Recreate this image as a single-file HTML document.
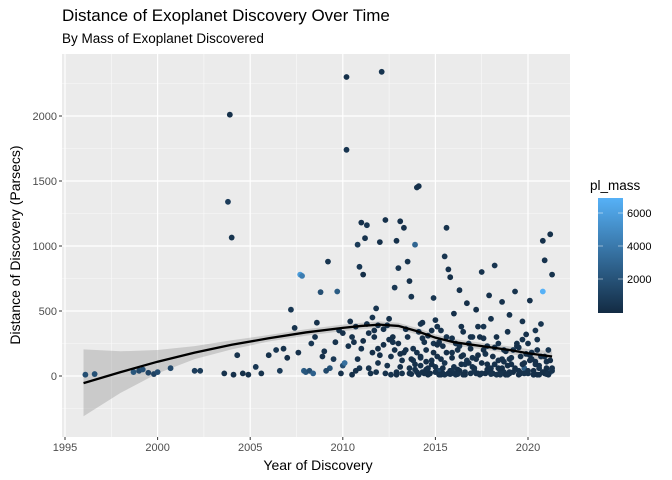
<!DOCTYPE html>
<html><head><meta charset="utf-8"><style>
body{margin:0;background:#fff;}
svg{display:block;font-family:"Liberation Sans",Arial,sans-serif;}
</style></head><body>
<svg id="chart" width="672" height="480">
<text x="62" y="21" font-size="17" fill="#000">Distance of Exoplanet Discovery Over Time</text>
<text x="62" y="43" font-size="13.5" fill="#000">By Mass of Exoplanet Discovered</text>
<rect x="62" y="54" width="508" height="383" fill="#ebebeb"/>
<g id="grid"></g>
<g id="band"></g>
<g id="pts"></g>
<g id="smooth"></g>
<g id="axes"></g>
<text x="318" y="470" font-size="14" text-anchor="middle" fill="#000">Year of Discovery</text>
<text transform="translate(20,245) rotate(-90)" font-size="14" text-anchor="middle" fill="#000">Distance of Discovery (Parsecs)</text>
<g id="legend">
<text x="590" y="190" font-size="13.5" fill="#000">pl_mass</text>
<defs><linearGradient id="lg" x1="0" y1="1" x2="0" y2="0"><stop offset="0" stop-color="#132B43"/><stop offset="1" stop-color="#56B1F7"/></linearGradient></defs>
<rect x="598" y="198" width="25" height="115" fill="url(#lg)"/>
</g>
</svg>
<script>
const xTicks=[1995,2000,2005,2010,2015,2020];
const yTicks=[0,500,1000,1500,2000];
const legendTicks=[2000,4000,6000];
const years=[
1996.1,1996.6,1998.7,1999.0,1999.2,1999.5,1999.8,2000.0,2000.7,2002.0,
2002.3,2003.6,2003.8,2003.9,2004.0,2004.1,2004.3,2004.6,2004.9,2005.3,
2005.6,2006.0,2006.4,2006.6,2006.8,2007.0,2007.2,2007.4,2007.6,2007.7,
2007.8,2007.9,2008.0,2008.2,2008.3,2008.5,2008.6,2008.8,2009.0,2009.2,
2009.3,2009.5,2009.7,2009.8,2010.0,2010.1,2010.2,2010.2,2010.3,2010.4,
2010.5,2010.6,2010.7,2010.8,2010.9,2011.0,2011.1,2011.2,2011.3,2011.4,
2011.5,2011.6,2011.7,2011.8,2011.9,2012.0,2012.1,2012.2,2012.3,2012.4,
2012.5,2012.6,2012.7,2012.8,2012.9,2013.0,2013.1,2013.2,2013.3,2013.4,
2013.5,2013.6,2013.7,2013.8,2013.9,2014.0,2014.1,2014.2,2014.3,2014.4,
2014.5,2014.6,2014.7,2014.8,2014.9,2015.0,2015.1,2015.2,2015.3,2015.4,
2015.5,2015.6,2015.7,2015.8,2015.9,2016.0,2016.1,2016.2,2016.3,2016.4,
2016.5,2016.6,2016.7,2016.8,2016.9,2017.0,2017.1,2017.2,2017.3,2017.4,
2017.5,2017.6,2017.7,2017.8,2017.9,2018.0,2018.1,2018.2,2018.3,2018.4,
2018.5,2018.6,2018.7,2018.8,2018.9,2019.0,2019.1,2019.2,2019.3,2019.4,
2019.5,2019.6,2019.7,2019.8,2019.9,2020.0,2020.1,2020.2,2020.3,2020.4,
2020.5,2020.6,2020.7,2020.8,2020.8,2020.9,2021.0,2021.1,2021.2,2021.3,
2008.4,2009.1,2009.9,2010.5,2010.9,2011.3,2011.8,2012.2,2012.6,2013.0,
2013.2,2013.5,2013.8,2014.0,2014.2,2014.5,2014.8,2015.0,2015.2,2015.5,
2015.7,2015.9,2016.2,2016.4,2016.7,2017.0,2017.2,2017.5,2017.8,2018.0,
2018.3,2018.6,2018.9,2019.2,2019.5,2019.8,2020.0,2020.3,2020.6,2020.9,
2021.0,2021.2,2021.3,2016.0,2015.3,2014.6,2013.9,2012.9,2011.6,2010.0,
2014.1,2014.3,2014.9,2015.6,2016.3,2016.9,2017.6,2018.4,2019.0,2019.7,
2020.1,2020.4,2020.7,2021.1,2018.7,2017.9,2017.3,2016.6,2015.8,2015.1,
2014.4,2013.6,2013.3,2012.8,2012.4,2011.9,2011.0,2010.7,2009.6,2008.9,
2010.8,2011.1,2011.4,2011.7,2012.0,2012.3,2012.7,2013.1,2013.4,2013.7,
2013.9,2014.0,2014.2,2014.3,2014.5,2014.6,2014.7,2014.9,2015.0,2015.1,
2015.3,2015.4,2015.6,2015.7,2015.9,2016.0,2016.1,2016.3,2016.5,2016.6,
2016.8,2016.9,2017.1,2017.2,2017.4,2017.5,2017.7,2017.8,2018.0,2018.1,
2018.2,2018.4,2018.5,2018.7,2018.8,2019.0,2019.1,2019.3,2019.4,2019.6,
2019.7,2019.9,2020.0,2020.2,2020.3,2020.5,2020.6,2020.8,2020.9,2021.0,
2021.1,2021.2,2021.3,2020.4,2020.1,2019.5,2019.0,2018.6,2018.2,2017.6,
2017.0,2016.4,2015.9,2015.4,2014.8,2014.2,2013.6,2013.1,2012.5,2011.9,
2014.1,2014.7,2015.2,2015.8,2016.5,2017.3,2018.0,2018.8,2019.6,2020.5,
2021.0,2020.8,2019.8,2018.9,2017.7,2016.2,2015.5,2014.4,2013.7,2012.9];
const distances=[
10,15,30,40,50,25,15,30,60,40,
40,20,1340,2010,1065,10,160,20,10,70,
20,160,200,40,210,140,510,370,180,780,
770,40,30,40,250,300,410,645,190,880,
60,130,650,350,80,100,2300,1740,230,420,
10,260,380,1010,840,1180,780,1060,1160,330,
20,180,300,520,390,1030,2340,240,1200,80,
440,10,300,680,1040,830,1190,120,1140,360,
880,730,610,210,1010,1450,1460,400,30,260,
50,310,20,120,600,430,150,40,350,20,
920,1140,820,760,290,480,10,200,660,90,
340,30,560,250,20,140,60,510,380,10,
800,290,170,50,620,440,20,850,300,120,
40,570,200,10,340,470,90,30,650,250,
10,150,420,60,320,20,580,180,40,110,
280,10,400,650,1040,890,50,200,1090,780,
20,40,20,300,60,400,30,360,150,250,
20,300,120,180,80,200,350,30,260,100,
20,180,50,380,120,300,20,100,230,60,
10,130,80,200,40,100,250,10,60,20,
110,30,60,20,10,10,50,30,450,330,
340,410,250,180,230,300,380,250,20,280,
120,350,150,10,30,30,160,90,40,380,
30,20,180,200,390,100,210,40,260,150,
130,270,60,350,160,20,260,70,200,130,
90,30,150,290,110,60,20,180,70,240,
130,60,300,20,140,70,250,40,160,10,
100,210,40,130,300,20,170,90,30,150,
220,60,10,110,190,30,140,60,230,20,
90,170,40,130,10,200,80,30,150,60,
20,120,40,90,160,220,130,60,90,200,
70,150,40,230,90,140,60,170,280,210,
10,20,10,15,10,20,15,10,25,10,
15,30,20,10,20,15,10,20,15,10];
const masses=[
1800,1900,2200,1500,1900,1300,1200,1700,1500,900,
800,400,900,300,500,300,400,200,300,600,
400,300,500,800,300,200,600,400,300,5800,
4200,2500,2200,1800,600,400,300,1800,400,500,
2000,600,2500,400,1800,3500,300,500,400,300,
200,300,400,800,600,300,200,400,500,300,
400,200,300,500,400,300,500,200,300,400,
300,400,200,600,300,500,300,400,300,200,
400,300,500,300,3000,400,300,500,300,400,
300,200,400,300,500,400,300,1200,400,300,
500,400,300,200,400,300,500,400,300,200,
300,400,200,500,300,400,300,200,400,300,
400,300,500,200,300,400,300,500,200,300,
400,300,200,500,300,400,300,200,400,300,
200,300,400,2500,300,400,300,500,200,300,
400,300,500,6900,300,400,300,500,300,400,
2800,1500,300,400,500,300,400,300,400,200,
400,300,500,300,400,300,200,400,300,500,
300,400,200,300,500,400,300,200,400,300,
400,300,200,500,300,400,300,1500,400,300,
300,2500,300,400,300,200,400,300,500,300,
400,300,500,200,400,300,500,400,300,400,
300,500,400,300,400,300,200,500,300,400,
300,400,200,300,500,400,300,200,400,300,
300,200,400,300,200,300,400,200,300,200,
300,400,200,300,200,300,400,200,300,200,
300,200,400,300,200,300,400,200,300,200,
300,200,400,300,200,300,400,200,300,200,
300,200,400,300,200,300,400,200,300,200,
300,200,400,300,200,300,400,200,300,200,
300,200,400,300,200,300,400,200,300,200,
300,200,400,300,200,300,400,200,300,200,
300,200,400,300,200,300,400,200,300,200,
300,200,400,300,200,300,400,200,300,200];
const smoothYears=[1996,1998,2000,2002,2004,2006,2008,2010,2011,2012,2013,2014,2015,2016,2017,2018,2019,2020,2021.3];
const smoothFit=[-55,30,110,180,240,290,335,370,385,395,385,345,295,260,240,220,200,175,150];
const smoothUpper=[205,190,200,230,275,315,360,395,410,420,410,370,320,285,265,245,228,208,190];
const smoothLower=[-310,-130,20,130,205,265,310,345,360,370,360,320,270,235,215,195,172,142,110];

const NS='http://www.w3.org/2000/svg';
const px0=62,px1=570,py0=54,py1=437;
function xs(v){return 65+(v-1995)*18.52;}
function ys(v){return 376-v*0.13;}
function mk(tag,attrs,parent){const e=document.createElementNS(NS,tag);for(const k in attrs)e.setAttribute(k,attrs[k]);parent.appendChild(e);return e;}
const grid=document.getElementById('grid');
for(let i=0;i<xTicks.length;i++){const m=xTicks[i]+2.5;if(xs(m)<px1){const l=mk('line',{x1:xs(m),x2:xs(m),y1:py0,y2:py1,stroke:'#fafafa','stroke-width':0.6},grid);

}}
for(let v=-250;v<=2250;v+=500){const l=mk('line',{x1:px0,x2:px1,y1:ys(v),y2:ys(v),stroke:'#fafafa','stroke-width':0.6},grid);

}
const axes=document.getElementById('axes');
xTicks.forEach(t=>{const l=mk('line',{x1:xs(t),x2:xs(t),y1:py0,y2:py1,stroke:'#fff','stroke-width':1.2},grid);


mk('line',{x1:xs(t),x2:xs(t),y1:py1,y2:py1+3,stroke:'#333'},axes);
const tx=mk('text',{x:xs(t),y:py1+14,'font-size':11,'text-anchor':'middle',fill:'#4d4d4d'},axes);tx.textContent=t;

});
yTicks.forEach(t=>{const l=mk('line',{x1:px0,x2:px1,y1:ys(t),y2:ys(t),stroke:'#fff','stroke-width':1.2},grid);


mk('line',{x1:px0-3,x2:px0,y1:ys(t),y2:ys(t),stroke:'#333'},axes);
const tx=mk('text',{x:px0-5,y:ys(t)+4,'font-size':11,'text-anchor':'end',fill:'#4d4d4d'},axes);tx.textContent=t;

});
let d='';smoothYears.forEach((y,i)=>{d+=(i?'L':'M')+xs(y)+','+ys(smoothUpper[i]);});
for(let i=smoothYears.length-1;i>=0;i--)d+='L'+xs(smoothYears[i])+','+ys(smoothLower[i]);
const band=mk('path',{d:d+'Z',fill:'#999',opacity:0.4},document.getElementById('band'));


const mMin=0,mMax=Math.max(...masses);
const c0=[0x13,0x2B,0x43],c1=[0x56,0xB1,0xF7];
function col(m){const t=Math.max(0,Math.min(1,(m-mMin)/(mMax-mMin)));return 'rgb('+c0.map((c,i)=>Math.round(c+(c1[i]-c)*t)).join(',')+')';}
const pts=document.getElementById('pts');
years.forEach((y,i)=>{const c=mk('circle',{cx:xs(y),cy:ys(distances[i]),r:2.9,fill:col(masses[i])},pts);

});
let ld='';smoothYears.forEach((y,i)=>{ld+=(i?'L':'M')+xs(y)+','+ys(smoothFit[i]);});
const sl=mk('path',{d:ld,fill:'none',stroke:'#000','stroke-width':2.3},document.getElementById('smooth'));


const lg=document.getElementById('legend');
legendTicks.forEach(t=>{const yy=312-t/2000*33;
mk('line',{x1:598,x2:603,y1:yy,y2:yy,stroke:'#fff','stroke-width':0.8,opacity:0.6},lg);
mk('line',{x1:618,x2:623,y1:yy,y2:yy,stroke:'#fff','stroke-width':0.8,opacity:0.6},lg);
const tx=mk('text',{x:627,y:yy+4,'font-size':11,fill:'#000'},lg);tx.textContent=t;

});
</script>
</body></html>
